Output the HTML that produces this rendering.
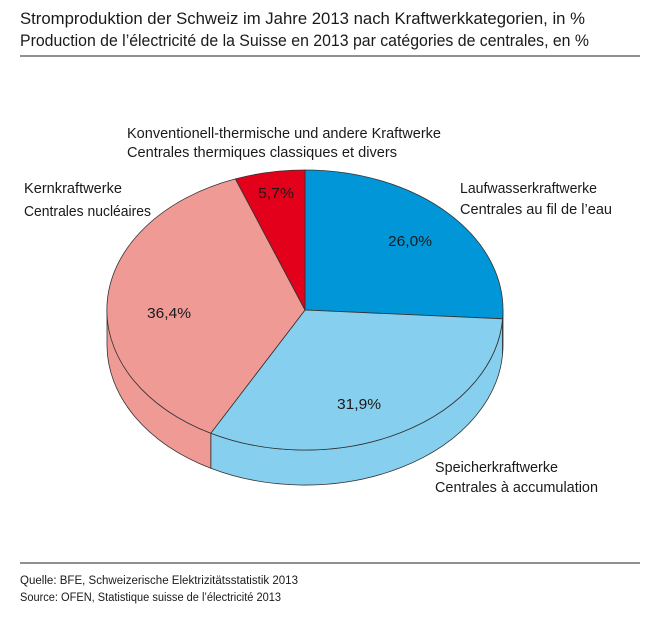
<!DOCTYPE html>
<html><head><meta charset="utf-8"><style>body{margin:0;background:#fff}svg{display:block}text{font-family:"Liberation Sans",sans-serif;fill:#1a1a1a}</style></head><body>
<svg width="666" height="623" viewBox="0 0 666 623" xmlns="http://www.w3.org/2000/svg">
<text x="20" y="24" font-size="17" textLength="565" lengthAdjust="spacingAndGlyphs">Stromproduktion der Schweiz im Jahre 2013 nach Kraftwerkkategorien, in %</text>
<text x="20" y="46" font-size="17" textLength="569" lengthAdjust="spacingAndGlyphs">Production de l’électricité de la Suisse en 2013 par catégories de centrales, en %</text>
<line x1="20" y1="56" x2="640" y2="56" stroke="#222" stroke-width="1"/>
<g stroke="#333" stroke-width="0.8">
<path d="M502.6,318.8 A198,140 0 0 1 210.8,433.2 L210.8,468.2 A198,140 0 0 0 502.6,353.8 Z" fill="#87cfee"/>
<path d="M210.8,433.2 A198,140 0 0 1 107,310 L107,345 A198,140 0 0 0 210.8,468.2 Z" fill="#f09a96"/>
<path d="M503,310 A198,140 0 0 1 502.6,318.8 L502.6,353.8 A198,140 0 0 0 503,345 Z" fill="#0096d8"/>
<path d="M305,310 L305,170 A198,140 0 0 1 502.6,318.8 Z" fill="#0096d8"/>
<path d="M305,310 L502.6,318.8 A198,140 0 0 1 210.8,433.2 Z" fill="#87cfee"/>
<path d="M305,310 L210.8,433.2 A198,140 0 0 1 235.4,178.9 Z" fill="#f09a96"/>
<path d="M305,310 L235.4,178.9 A198,140 0 0 1 305,170 Z" fill="#e2001a"/>
</g>
<g font-size="15">
<text x="127" y="138" textLength="314" lengthAdjust="spacingAndGlyphs">Konventionell-thermische und andere Kraftwerke</text>
<text x="127" y="157" textLength="270" lengthAdjust="spacingAndGlyphs">Centrales thermiques classiques et divers</text>
<text x="24" y="193" textLength="98" lengthAdjust="spacingAndGlyphs">Kernkraftwerke</text>
<text x="24" y="216" textLength="127" lengthAdjust="spacingAndGlyphs">Centrales nucléaires</text>
<text x="460" y="193" textLength="137" lengthAdjust="spacingAndGlyphs">Laufwasserkraftwerke</text>
<text x="460" y="214" textLength="152" lengthAdjust="spacingAndGlyphs">Centrales au fil de l’eau</text>
<text x="435" y="472" textLength="123" lengthAdjust="spacingAndGlyphs">Speicherkraftwerke</text>
<text x="435" y="492" textLength="163" lengthAdjust="spacingAndGlyphs">Centrales à accumulation</text>
<text x="258" y="198" textLength="36" lengthAdjust="spacingAndGlyphs">5,7%</text>
<text x="388" y="246" textLength="44" lengthAdjust="spacingAndGlyphs">26,0%</text>
<text x="147" y="318" textLength="44" lengthAdjust="spacingAndGlyphs">36,4%</text>
<text x="337" y="409" textLength="44" lengthAdjust="spacingAndGlyphs">31,9%</text>
</g>
<line x1="20" y1="563" x2="640" y2="563" stroke="#222" stroke-width="1"/>
<text x="20" y="584" font-size="11.5" textLength="278" lengthAdjust="spacingAndGlyphs">Quelle: BFE, Schweizerische Elektrizitätsstatistik 2013</text>
<text x="20" y="601" font-size="11.5" textLength="261" lengthAdjust="spacingAndGlyphs">Source: OFEN, Statistique suisse de l’électricité 2013</text>
</svg>
</body></html>
